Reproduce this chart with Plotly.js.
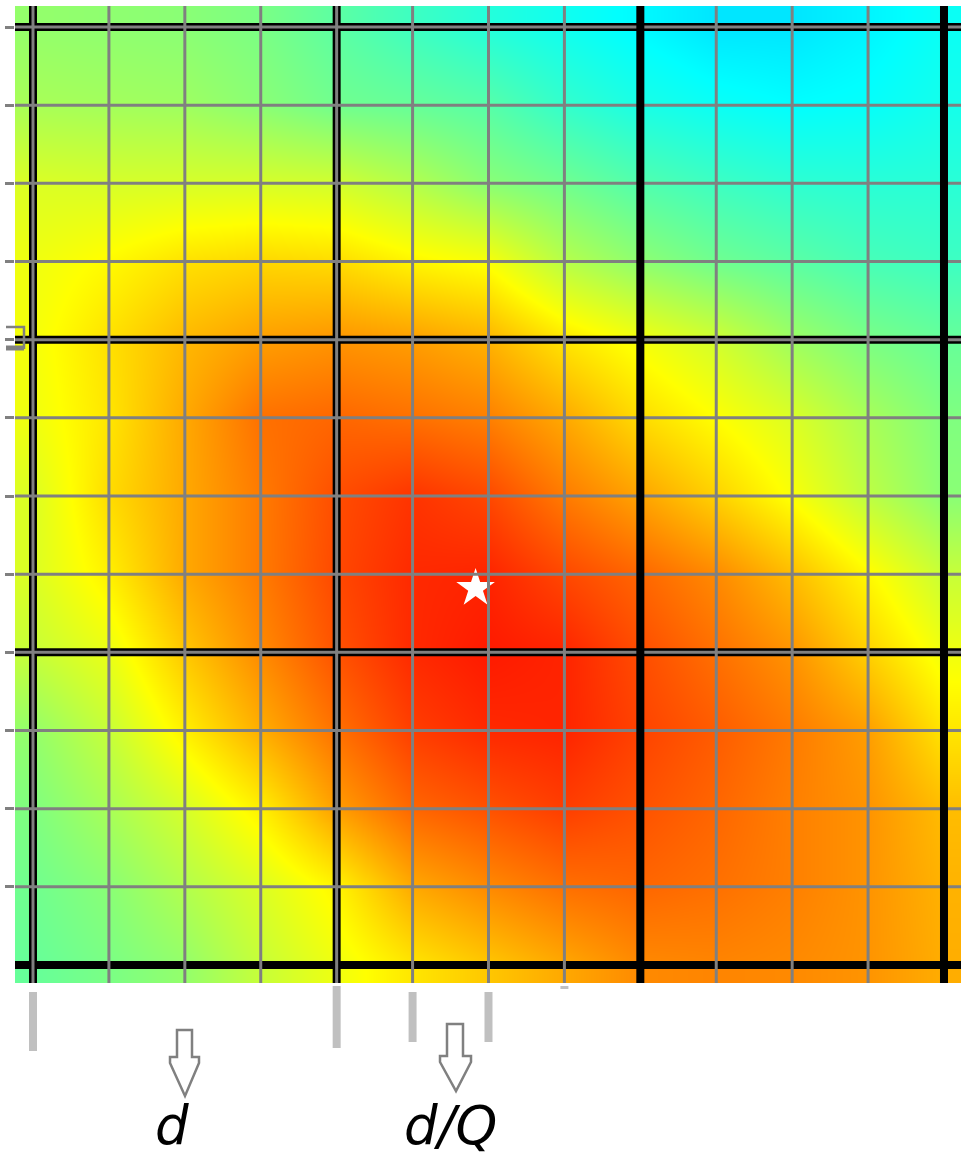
<!DOCTYPE html>
<html>
<head>
<meta charset="utf-8">
<script src="https://cdn.plot.ly/plotly-3.0.1.min.js"></script>
<style>html,body{margin:0;padding:0;background:#fff;}#chart{width:961px;height:1157px;}</style>
</head>
<body>
<div id="chart"></div>
<script>
// ---- data ----
const gridX = [0,1,2,3,4,5,6,7,8,9,10,11,12];
const gridY = [0,1,2,3,4,5,6,7,8,9,10,11,12];
// field level at each fine-grid crossing (0 = cyan, 0.5 = yellow, 1 = red)
const zRow0  = [0.29,0.28,0.27,0.24,0.18,0.12,0.07,0.03,-0.01,-0.05,-0.05,-0.02,0.02];
const zRow1  = [0.33,0.32,0.31,0.27,0.22,0.20,0.17,0.10,0.05,0.02,0.00,0.01,0.04];
const zRow2  = [0.43,0.42,0.42,0.42,0.41,0.35,0.27,0.22,0.16,0.12,0.09,0.08,0.08];
const zRow3  = [0.47,0.51,0.56,0.58,0.57,0.52,0.49,0.36,0.28,0.22,0.18,0.14,0.12];
const zRow4  = [0.48,0.56,0.64,0.69,0.71,0.69,0.65,0.55,0.48,0.41,0.31,0.24,0.20];
const zRow5  = [0.47,0.55,0.67,0.78,0.80,0.78,0.75,0.67,0.57,0.50,0.43,0.33,0.25];
const zRow6  = [0.43,0.57,0.67,0.76,0.85,0.90,0.86,0.76,0.68,0.59,0.49,0.37,0.27];
const zRow7  = [0.43,0.53,0.67,0.76,0.86,0.92,0.93,0.86,0.80,0.73,0.63,0.51,0.39];
const zRow8  = [0.39,0.46,0.61,0.73,0.84,0.92,0.95,0.93,0.85,0.78,0.71,0.59,0.47];
const zRow9  = [0.29,0.39,0.53,0.66,0.78,0.88,0.92,0.93,0.87,0.82,0.76,0.69,0.55];
const zRow10 = [0.25,0.33,0.42,0.53,0.69,0.80,0.84,0.88,0.84,0.80,0.75,0.71,0.63];
const zRow11 = [0.22,0.27,0.35,0.43,0.52,0.67,0.73,0.78,0.80,0.78,0.75,0.71,0.65];
const zRow12 = [0.20,0.24,0.29,0.39,0.47,0.55,0.61,0.67,0.73,0.74,0.73,0.71,0.66];
const zValues = [zRow0,zRow1,zRow2,zRow3,zRow4,zRow5,zRow6,zRow7,zRow8,zRow9,zRow10,zRow11,zRow12];

const fineLines = [0,1,2,3,4,5,6,7,8,9,10,11,12];
const coarseUnderX = [0,4];
const coarseUnderY = [0,4,8];
const coarseOverX = [8,12];
const coarseOverY = [12];
const leftTicks = [0,1,2,3,4,5,6,7,8,9,10,11];

const starX = [5.83];
const starY = [7.18];

const stepMarksX = [0,4,5,6,7];
const labelTexts = ['d','d/Q'];
const labelX = [1.83,5.5];

// ---- layout helpers (pixel -> paper) ----
const PL = 15, PW = 946, PT = 6, PH = 977;
const px = v => (v - PL) / PW;
const py = v => (PT + PH - v) / PH;

const GRAY = 'rgb(128,128,128)';
const shapes = [];
function hLine(y, color, w){ shapes.push({type:'line', xref:'paper', yref:'y', x0:0, x1:1, y0:y, y1:y, line:{color:color, width:w}, layer:'above'}); }
function vLine(x, color, w){ shapes.push({type:'line', xref:'x', yref:'paper', x0:x, x1:x, y0:0, y1:1, line:{color:color, width:w}, layer:'above'}); }

coarseUnderY.forEach(v => hLine(v, 'black', 8));
coarseOverY.forEach(v => hLine(v, 'black', 8));
coarseUnderX.forEach(v => vLine(v, 'black', 8));
fineLines.filter(v => coarseOverY.indexOf(v) < 0).forEach(v => hLine(v, GRAY, 3));
fineLines.forEach(v => vLine(v, GRAY, 3));
coarseOverX.forEach(v => vLine(v, 'black', 8));

// small bracket on the left edge
shapes.push({type:'path', xref:'paper', yref:'paper',
  path:`M ${px(6)},${py(327)} L ${px(24)},${py(327)} L ${px(24)},${py(349)}`,
  line:{color:GRAY, width:2.5}, layer:'above'});
shapes.push({type:'line', xref:'paper', yref:'paper', x0:px(6), x1:px(24), y0:py(348), y1:py(348),
  line:{color:GRAY, width:5}, layer:'above'});

// light grey step marks under the grid
const markTop = [992,986,992,992,986];
const markBot = [1051,1048,1042,1042,989];
stepMarksX.forEach((v,i) => shapes.push({type:'line', xref:'x', yref:'paper', x0:v, x1:v,
  y0:py(markTop[i]), y1:py(markBot[i]), line:{color:'rgb(192,192,192)', width:8}}));

// outline arrows
function arrow(l, r, top, lip, hl, hr, tipx, tipy){
  const p = [[l,top],[r,top],[r,lip],[hr,lip],[hr,lip+6],[tipx,tipy],[hl,lip+6],[hl,lip],[l,lip]];
  return {type:'path', xref:'paper', yref:'paper',
    path:'M ' + p.map(q => px(q[0]) + ',' + py(q[1])).join(' L ') + ' Z',
    line:{color:GRAY, width:2.5}, fillcolor:'white'};
}
shapes.push(arrow(177,192,1030,1057,170,199,185,1096));
shapes.push(arrow(447,463,1024,1056,440,471,456,1091));

const annotations = labelTexts.map((t,i) => ({
  text:'<i>' + t + '</i>', xref:'x', yref:'paper', x:labelX[i], y:py(1125),
  xanchor:'center', yanchor:'middle', showarrow:false,
  font:{family:'DejaVu Sans', size:53, color:'black'}
}));

const data = [
  {type:'heatmap', x:gridX, y:gridY, z:zValues, zsmooth:'best', zmin:-0.5, zmax:1,
   colorscale:[[0,'rgb(0,0,255)'],[1/3,'rgb(0,255,255)'],[2/3,'rgb(255,255,0)'],[1,'rgb(255,0,0)']],
   showscale:false, hoverinfo:'skip'},
  {type:'scatter', mode:'markers', x:starX, y:starY,
   marker:{symbol:'star', size:29, color:'white', line:{width:0}}, hoverinfo:'skip', showlegend:false}
];

const layout = {
  width:961, height:1157,
  margin:{l:PL, r:961-PL-PW, t:PT, b:1157-PT-PH},
  paper_bgcolor:'white', plot_bgcolor:'white',
  showlegend:false,
  xaxis:{range:[-0.237,12.224], showgrid:false, zeroline:false, showticklabels:false, ticks:'', showline:false, fixedrange:true},
  yaxis:{range:[12.23,-0.269], showgrid:false, zeroline:false, showticklabels:false, showline:false,
         ticks:'outside', tickvals:leftTicks, ticklen:9, tickwidth:3, tickcolor:GRAY, fixedrange:true},
  shapes:shapes,
  annotations:annotations
};

Plotly.newPlot('chart', data, layout, {displayModeBar:false, staticPlot:true});
</script>
</body>
</html>
